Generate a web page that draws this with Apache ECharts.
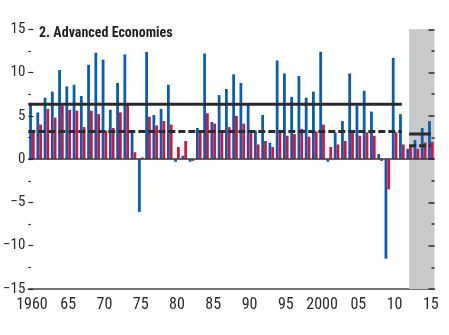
<!DOCTYPE html>
<html>
<head>
<meta charset="utf-8">
<title>Advanced Economies</title>
<script src="https://cdn.jsdelivr.net/npm/echarts@6/dist/echarts.min.js"></script>
<style>
  html, body { margin: 0; padding: 0; background: #fff; }
  #chart { width: 449px; height: 335px; }
</style>
</head>
<body>
<div id="chart"></div>
<script>
// Annual observations, 1960–2015 (last four years are projections)
const years = [
  '1960','1961','1962','1963','1964','1965','1966','1967','1968','1969',
  '1970','1971','1972','1973','1974','1975','1976','1977','1978','1979',
  '1980','1981','1982','1983','1984','1985','1986','1987','1988','1989',
  '1990','1991','1992','1993','1994','1995','1996','1997','1998','1999',
  '2000','2001','2002','2003','2004','2005','2006','2007','2008','2009',
  '2010','2011','2012','2013','2014','2015'
];

// Blue bars
const blueValues = [
  6.5, 5.4, 7.1, 7.8, 10.3, 8.4, 8.6, 7.3, 10.9, 12.3,
  11.5, 5.7, 8.8, 12.1, 3.1, -6.1, 12.4, 5.1, 5.8, 8.6,
  -0.3, 0.4, -0.3, 3.6, 12.2, 4.3, 7.4, 8.1, 9.8, 8.8,
  6.3, 3.3, 5.1, 1.9, 11.4, 9.9, 7.2, 9.6, 7.1, 7.8,
  12.4, -0.3, 3.1, 4.4, 9.9, 6.2, 7.9, 5.5, 0.6, -11.5,
  11.7, 5.2, 1.2, 2.2, 3.6, 4.4
];

// Red bars
const redValues = [
  3.1, 4.0, 5.8, 4.8, 6.2, 5.7, 5.6, 3.7, 5.6, 5.2,
  3.3, 3.6, 5.4, 6.3, 0.8, 0.2, 4.9, 3.9, 4.4, 4.0,
  1.4, 2.1, -0.2, 3.2, 5.3, 4.1, 3.1, 3.7, 5.0, 4.1,
  3.1, 1.7, 2.1, 1.4, 3.2, 2.7, 2.9, 3.5, 2.6, 3.2,
  4.0, 1.4, 1.7, 2.1, 3.1, 2.7, 3.1, 2.7, -0.2, -3.5,
  3.1, 1.7, 1.4, 1.2, 1.9, 2.0
];

// Period averages: [blue, red]
const averages1960to2011 = [6.35, 3.2];
const averages2012to2015 = [2.9, 1.55];
const historyEnd = 2011;
const projectionStart = 2012;
const projectionEnd = 2015;

// Axis tick labels
const xTickLabels = ['1960','65','70','75','80','85','90','95','2000','05','10','15'];
const yRange = [-15, 15];
const yStep = 5;

const titleText = '2. Advanced Economies';

// Use a genuinely condensed face if one is installed (digits narrower than half an em)
function isCondensed(name) {
  const ctx = document.createElement('canvas').getContext('2d');
  ctx.font = "100px '" + name + "', monospace";
  return ctx.measureText('0123456789').width < 520;
}
const narrowFace = ['Liberation Sans Narrow', 'Arial Narrow', 'DejaVu Sans Condensed',
  'Nimbus Sans Narrow', 'Roboto Condensed'].find(isCondensed);
const FONT = narrowFace ? "'" + narrowFace + "'" : "'Liberation Sans', Arial, sans-serif";
const xLabelSize = narrowFace ? 16 : 14;
const yLabelSize = narrowFace ? 15 : 14;
const titleSize = narrowFace ? 14 : 15;
const titleScaleX = narrowFace ? 1 : 0.77;

const INK = '#2b2b2b';
const BLUE = '#0a5db4';
const RED = '#d2163f';

// Continuous year axis aligned with the category slots (used for lines and shading)
const yearMin = Number(years[0]) - 0.5;
const yearMax = Number(years[years.length - 1]) + 0.5;

function avgLine(from, to, value, dashed) {
  return {
    type: 'line',
    xAxisIndex: 1,
    yAxisIndex: 0,
    z: 4,
    symbol: 'none',
    silent: true,
    animation: false,
    data: [[from, value], [to, value]],
    lineStyle: {
      color: INK,
      width: 3,
      type: dashed ? [7, 3] : 'solid'
    }
  };
}

const chart = echarts.init(document.getElementById('chart'), null, { renderer: 'canvas' });

chart.setOption({
  animation: false,
  backgroundColor: '#ffffff',
  graphic: [
    {
      type: 'text',
      x: 39,
      y: 26,
      scaleX: titleScaleX,
      z: 20,
      style: {
        text: titleText,
        fontFamily: FONT,
        fontWeight: 'bold',
        fontSize: titleSize,
        fill: '#231f20',
        verticalAlign: 'top'
      }
    }
  ],
  grid: { left: 28, right: 14.5, top: 29.3, bottom: 46 },
  xAxis: [
    {
      type: 'category',
      data: years,
      boundaryGap: true,
      axisLine: { onZero: false, lineStyle: { color: '#444', width: 1.5 } },
      axisTick: {
        inside: true,
        alignWithLabel: true,
        interval: 0,
        length: 4,
        lineStyle: { color: INK, width: 1 }
      },
      axisLabel: {
        interval: 4,
        margin: 8,
        color: INK,
        fontFamily: FONT,
        fontSize: xLabelSize,
        formatter: (v, i) => xTickLabels[Math.round(i / 5)]
      },
      splitLine: { show: false }
    },
    {
      type: 'value',
      min: yearMin,
      max: yearMax,
      show: false
    }
  ],
  yAxis: [
    {
      type: 'value',
      position: 'left',
      min: yRange[0],
      max: yRange[1],
      interval: yStep,
      z: 10,
      axisLine: { show: false },
      axisTick: { show: true, inside: true, length: 5, lineStyle: { color: INK, width: 1.2 } },
      minorTick: { show: true, splitNumber: 2, length: 2.5, lineStyle: { color: INK, width: 1.2 } },
      splitLine: { show: false },
      axisLabel: {
        margin: 3,
        color: INK,
        fontFamily: FONT,
        fontSize: yLabelSize,
        formatter: v => (v < 0 ? '\u2212' + (-v) : String(v))
      }
    },
    {
      type: 'value',
      position: 'right',
      min: yRange[0],
      max: yRange[1],
      interval: yStep,
      z: 10,
      axisLine: { show: false },
      axisTick: { show: true, inside: true, length: 6, lineStyle: { color: INK, width: 1.5 } },
      minorTick: { show: true, splitNumber: 2, length: 3, lineStyle: { color: INK, width: 1.5 } },
      splitLine: { show: false },
      axisLabel: { show: false }
    }
  ],
  series: [
    {
      // shaded projection years
      type: 'line',
      xAxisIndex: 1,
      yAxisIndex: 0,
      z: 1,
      silent: true,
      symbol: 'none',
      data: [],
      markArea: {
        silent: true,
        itemStyle: { color: '#c8c9cb' },
        data: [[{ xAxis: projectionStart }, { xAxis: yearMax }]]
      }
    },
    {
      name: 'blue',
      type: 'bar',
      z: 2,
      data: blueValues,
      barWidth: 2.8,
      barGap: '0%',
      itemStyle: { color: BLUE },
      markLine: {
        silent: true,
        symbol: 'none',
        label: { show: false },
        lineStyle: { color: '#3a3a3a', width: 1.5, type: 'solid' },
        data: [{ yAxis: 0 }]
      }
    },
    {
      name: 'red',
      type: 'bar',
      z: 2,
      data: redValues,
      barWidth: 2.8,
      barGap: '0%',
      itemStyle: { color: RED }
    },
    avgLine(yearMin, historyEnd, averages1960to2011[0], false),
    avgLine(yearMin, historyEnd, averages1960to2011[1], true),
    avgLine(projectionStart, projectionEnd, averages2012to2015[0], false),
    avgLine(projectionStart, projectionEnd, averages2012to2015[1], true)
  ]
});
</script>
</body>
</html>
